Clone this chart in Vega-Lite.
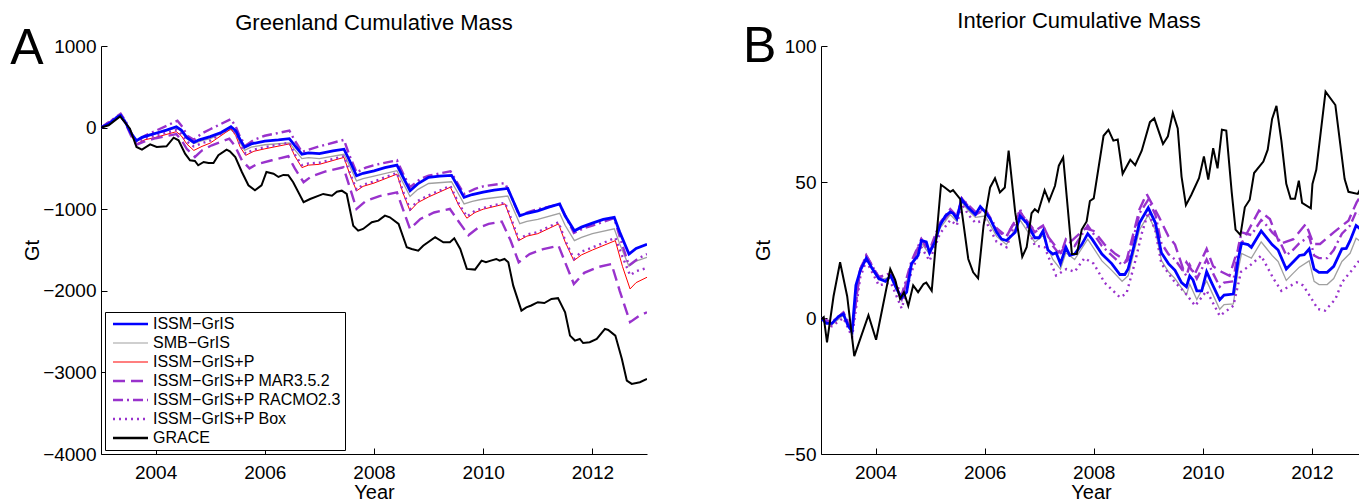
{
"$schema": "https://vega.github.io/schema/vega-lite/v6.json",
"padding": {"left": 10, "top": 10, "right": 0, "bottom": 0},
"spacing": 95,
"config": {
  "view": {"stroke": null},
  "font": "Liberation Sans",
  "axis": {"grid": false, "domainColor": "#000", "tickColor": "#000", "labelColor": "#000", "titleColor": "#000", "labelFontSize": 19, "titleFontSize": 20, "titleFontWeight": "normal", "labelFont": "Liberation Sans", "titleFont": "Liberation Sans", "tickSize": -6},
  "axisX": {"labelPadding": 15, "titlePadding": 0},
  "axisY": {"labelPadding": 11},
  "title": {"fontSize": 22, "fontWeight": "normal", "font": "Liberation Sans", "color": "#000"}
},
"resolve": {"scale": {"color": "independent"}, "legend": {"color": "independent"}},
"datasets": {
"aGRACE": [{"t":2003.0,"v":0},{"t":2003.14,"v":28},{"t":2003.35,"v":138},{"t":2003.53,"v":-13},{"t":2003.65,"v":-238},{"t":2003.75,"v":-270},{"t":2003.9,"v":-205},{"t":2004.02,"v":-238},{"t":2004.2,"v":-229},{"t":2004.33,"v":-124},{"t":2004.42,"v":-156},{"t":2004.54,"v":-320},{"t":2004.63,"v":-401},{"t":2004.72,"v":-409},{"t":2004.78,"v":-462},{"t":2004.88,"v":-421},{"t":2004.97,"v":-434},{"t":2005.06,"v":-434},{"t":2005.15,"v":-339},{"t":2005.3,"v":-270},{"t":2005.36,"v":-290},{"t":2005.46,"v":-360},{"t":2005.58,"v":-544},{"t":2005.7,"v":-707},{"t":2005.82,"v":-768},{"t":2005.94,"v":-707},{"t":2006.03,"v":-544},{"t":2006.16,"v":-565},{"t":2006.25,"v":-605},{"t":2006.34,"v":-580},{"t":2006.43,"v":-584},{"t":2006.52,"v":-670},{"t":2006.71,"v":-915},{"t":2006.83,"v":-875},{"t":2007.07,"v":-813},{"t":2007.23,"v":-834},{"t":2007.32,"v":-785},{"t":2007.41,"v":-773},{"t":2007.5,"v":-813},{"t":2007.62,"v":-1202},{"t":2007.71,"v":-1263},{"t":2007.8,"v":-1242},{"t":2007.96,"v":-1160},{"t":2008.08,"v":-1140},{"t":2008.2,"v":-1079},{"t":2008.29,"v":-1099},{"t":2008.45,"v":-1181},{"t":2008.6,"v":-1466},{"t":2008.69,"v":-1487},{"t":2008.81,"v":-1508},{"t":2008.9,"v":-1447},{"t":2009.12,"v":-1344},{"t":2009.27,"v":-1405},{"t":2009.39,"v":-1405},{"t":2009.47,"v":-1356},{"t":2009.58,"v":-1487},{"t":2009.7,"v":-1732},{"t":2009.85,"v":-1740},{"t":2009.97,"v":-1630},{"t":2010.05,"v":-1650},{"t":2010.14,"v":-1630},{"t":2010.24,"v":-1610},{"t":2010.3,"v":-1630},{"t":2010.39,"v":-1610},{"t":2010.46,"v":-1650},{"t":2010.55,"v":-1937},{"t":2010.7,"v":-2243},{"t":2010.79,"v":-2203},{"t":2010.88,"v":-2180},{"t":2011.0,"v":-2140},{"t":2011.12,"v":-2150},{"t":2011.25,"v":-2100},{"t":2011.37,"v":-2090},{"t":2011.5,"v":-2263},{"t":2011.59,"v":-2549},{"t":2011.68,"v":-2610},{"t":2011.77,"v":-2590},{"t":2011.83,"v":-2640},{"t":2011.95,"v":-2630},{"t":2012.08,"v":-2590},{"t":2012.23,"v":-2467},{"t":2012.29,"v":-2480},{"t":2012.42,"v":-2549},{"t":2012.54,"v":-2835},{"t":2012.63,"v":-3100},{"t":2012.72,"v":-3141},{"t":2012.87,"v":-3120},{"t":2013.0,"v":-3080}],
"aBlue": [{"t":2003.0,"v":0},{"t":2003.15,"v":50},{"t":2003.3,"v":130},{"t":2003.36,"v":150},{"t":2003.45,"v":60},{"t":2003.55,"v":-70},{"t":2003.65,"v":-160},{"t":2003.75,"v":-120},{"t":2003.9,"v":-90},{"t":2004.05,"v":-60},{"t":2004.2,"v":-30},{"t":2004.38,"v":10},{"t":2004.47,"v":-30},{"t":2004.57,"v":-120},{"t":2004.7,"v":-180},{"t":2004.8,"v":-150},{"t":2005.0,"v":-110},{"t":2005.2,"v":-60},{"t":2005.38,"v":10},{"t":2005.47,"v":-40},{"t":2005.55,"v":-150},{"t":2005.63,"v":-240},{"t":2005.75,"v":-200},{"t":2006.0,"v":-165},{"t":2006.25,"v":-150},{"t":2006.45,"v":-135},{"t":2006.55,"v":-220},{"t":2006.68,"v":-325},{"t":2006.8,"v":-310},{"t":2007.0,"v":-320},{"t":2007.25,"v":-285},{"t":2007.45,"v":-265},{"t":2007.55,"v":-400},{"t":2007.68,"v":-590},{"t":2007.8,"v":-560},{"t":2008.0,"v":-530},{"t":2008.2,"v":-490},{"t":2008.42,"v":-460},{"t":2008.52,"v":-590},{"t":2008.66,"v":-775},{"t":2008.8,"v":-690},{"t":2009.0,"v":-610},{"t":2009.2,"v":-595},{"t":2009.42,"v":-585},{"t":2009.52,"v":-700},{"t":2009.65,"v":-855},{"t":2009.8,"v":-820},{"t":2010.0,"v":-790},{"t":2010.2,"v":-765},{"t":2010.45,"v":-745},{"t":2010.55,"v":-900},{"t":2010.67,"v":-1080},{"t":2010.8,"v":-1050},{"t":2011.0,"v":-1020},{"t":2011.2,"v":-975},{"t":2011.4,"v":-935},{"t":2011.5,"v":-1080},{"t":2011.67,"v":-1265},{"t":2011.8,"v":-1220},{"t":2012.0,"v":-1170},{"t":2012.2,"v":-1125},{"t":2012.4,"v":-1100},{"t":2012.5,"v":-1280},{"t":2012.67,"v":-1550},{"t":2012.8,"v":-1480},{"t":2013.0,"v":-1430}],
"aGray": [{"t":2003.0,"v":0},{"t":2003.36,"v":148},{"t":2003.45,"v":58},{"t":2003.55,"v":-73},{"t":2003.65,"v":-165},{"t":2003.8,"v":-115},{"t":2004.0,"v":-75},{"t":2004.38,"v":-3},{"t":2004.47,"v":-43},{"t":2004.57,"v":-135},{"t":2004.7,"v":-196},{"t":2004.85,"v":-160},{"t":2005.0,"v":-135},{"t":2005.38,"v":-23},{"t":2005.47,"v":-75},{"t":2005.55,"v":-187},{"t":2005.63,"v":-278},{"t":2005.75,"v":-240},{"t":2006.0,"v":-210},{"t":2006.45,"v":-187},{"t":2006.55,"v":-273},{"t":2006.68,"v":-380},{"t":2006.8,"v":-368},{"t":2007.0,"v":-380},{"t":2007.45,"v":-327},{"t":2007.55,"v":-463},{"t":2007.68,"v":-654},{"t":2007.8,"v":-625},{"t":2008.0,"v":-595},{"t":2008.42,"v":-528},{"t":2008.52,"v":-660},{"t":2008.66,"v":-845},{"t":2008.8,"v":-760},{"t":2009.0,"v":-685},{"t":2009.42,"v":-664},{"t":2009.52,"v":-780},{"t":2009.65,"v":-935},{"t":2009.8,"v":-905},{"t":2010.0,"v":-875},{"t":2010.45,"v":-838},{"t":2010.55,"v":-995},{"t":2010.67,"v":-1177},{"t":2010.8,"v":-1150},{"t":2011.0,"v":-1125},{"t":2011.4,"v":-1050},{"t":2011.5,"v":-1197},{"t":2011.67,"v":-1385},{"t":2011.8,"v":-1345},{"t":2012.0,"v":-1300},{"t":2012.4,"v":-1240},{"t":2012.5,"v":-1425},{"t":2012.67,"v":-1700},{"t":2012.8,"v":-1635},{"t":2013.0,"v":-1590}],
"aRed": [{"t":2003.0,"v":0},{"t":2003.36,"v":150},{"t":2003.45,"v":60},{"t":2003.55,"v":-90},{"t":2003.65,"v":-200},{"t":2003.8,"v":-150},{"t":2004.0,"v":-120},{"t":2004.38,"v":-50},{"t":2004.47,"v":-100},{"t":2004.57,"v":-200},{"t":2004.7,"v":-280},{"t":2004.85,"v":-230},{"t":2005.0,"v":-190},{"t":2005.38,"v":-15},{"t":2005.47,"v":-100},{"t":2005.55,"v":-240},{"t":2005.65,"v":-340},{"t":2005.8,"v":-290},{"t":2006.0,"v":-260},{"t":2006.45,"v":-200},{"t":2006.55,"v":-350},{"t":2006.68,"v":-490},{"t":2006.8,"v":-460},{"t":2007.0,"v":-450},{"t":2007.45,"v":-365},{"t":2007.55,"v":-560},{"t":2007.68,"v":-775},{"t":2007.8,"v":-720},{"t":2008.0,"v":-680},{"t":2008.42,"v":-570},{"t":2008.53,"v":-800},{"t":2008.66,"v":-1020},{"t":2008.8,"v":-920},{"t":2009.0,"v":-850},{"t":2009.4,"v":-730},{"t":2009.55,"v":-950},{"t":2009.7,"v":-1110},{"t":2009.85,"v":-1040},{"t":2010.0,"v":-1000},{"t":2010.4,"v":-935},{"t":2010.52,"v":-1150},{"t":2010.65,"v":-1385},{"t":2010.8,"v":-1330},{"t":2011.0,"v":-1300},{"t":2011.38,"v":-1180},{"t":2011.5,"v":-1400},{"t":2011.66,"v":-1630},{"t":2011.8,"v":-1560},{"t":2012.0,"v":-1500},{"t":2012.42,"v":-1385},{"t":2012.55,"v":-1700},{"t":2012.69,"v":-1977},{"t":2012.8,"v":-1900},{"t":2013.0,"v":-1834}],
"aMAR": [{"t":2003.0,"v":0},{"t":2003.36,"v":150},{"t":2003.45,"v":50},{"t":2003.55,"v":-100},{"t":2003.65,"v":-210},{"t":2003.8,"v":-170},{"t":2004.0,"v":-130},{"t":2004.38,"v":-80},{"t":2004.47,"v":-150},{"t":2004.57,"v":-260},{"t":2004.72,"v":-360},{"t":2004.85,"v":-280},{"t":2005.03,"v":-217},{"t":2005.35,"v":-136},{"t":2005.45,"v":-220},{"t":2005.58,"v":-400},{"t":2005.72,"v":-500},{"t":2005.85,"v":-450},{"t":2006.13,"v":-400},{"t":2006.43,"v":-351},{"t":2006.55,"v":-500},{"t":2006.71,"v":-670},{"t":2006.85,"v":-600},{"t":2007.1,"v":-540},{"t":2007.44,"v":-486},{"t":2007.55,"v":-720},{"t":2007.68,"v":-997},{"t":2007.85,"v":-900},{"t":2008.1,"v":-840},{"t":2008.42,"v":-793},{"t":2008.53,"v":-1000},{"t":2008.66,"v":-1242},{"t":2008.85,"v":-1120},{"t":2009.1,"v":-1040},{"t":2009.39,"v":-997},{"t":2009.55,"v":-1150},{"t":2009.73,"v":-1320},{"t":2009.9,"v":-1230},{"t":2010.1,"v":-1180},{"t":2010.34,"v":-1152},{"t":2010.5,"v":-1380},{"t":2010.65,"v":-1650},{"t":2010.85,"v":-1550},{"t":2011.1,"v":-1490},{"t":2011.38,"v":-1447},{"t":2011.5,"v":-1650},{"t":2011.66,"v":-1916},{"t":2011.85,"v":-1780},{"t":2012.1,"v":-1710},{"t":2012.35,"v":-1671},{"t":2012.5,"v":-2000},{"t":2012.69,"v":-2385},{"t":2012.85,"v":-2310},{"t":2013.0,"v":-2263}],
"aRAC": [{"t":2003.0,"v":0},{"t":2003.36,"v":170},{"t":2003.45,"v":80},{"t":2003.55,"v":-60},{"t":2003.65,"v":-170},{"t":2003.8,"v":-100},{"t":2004.0,"v":-40},{"t":2004.4,"v":85},{"t":2004.5,"v":0},{"t":2004.58,"v":-100},{"t":2004.7,"v":-150},{"t":2004.85,"v":-70},{"t":2005.0,"v":-20},{"t":2005.38,"v":105},{"t":2005.47,"v":10},{"t":2005.55,"v":-120},{"t":2005.65,"v":-220},{"t":2005.8,"v":-150},{"t":2006.0,"v":-100},{"t":2006.45,"v":-37},{"t":2006.55,"v":-160},{"t":2006.68,"v":-300},{"t":2006.85,"v":-260},{"t":2007.0,"v":-230},{"t":2007.45,"v":-150},{"t":2007.55,"v":-340},{"t":2007.68,"v":-550},{"t":2007.85,"v":-490},{"t":2008.0,"v":-460},{"t":2008.42,"v":-400},{"t":2008.53,"v":-560},{"t":2008.66,"v":-730},{"t":2008.85,"v":-630},{"t":2009.0,"v":-590},{"t":2009.4,"v":-535},{"t":2009.52,"v":-670},{"t":2009.65,"v":-813},{"t":2009.85,"v":-750},{"t":2010.0,"v":-720},{"t":2010.4,"v":-680},{"t":2010.53,"v":-870},{"t":2010.66,"v":-1080},{"t":2010.85,"v":-1030},{"t":2011.0,"v":-1000},{"t":2011.4,"v":-940},{"t":2011.52,"v":-1100},{"t":2011.66,"v":-1290},{"t":2011.85,"v":-1230},{"t":2012.0,"v":-1200},{"t":2012.4,"v":-1110},{"t":2012.52,"v":-1380},{"t":2012.67,"v":-1690},{"t":2012.85,"v":-1600},{"t":2013.0,"v":-1550}],
"aBox": [{"t":2003.0,"v":0},{"t":2003.36,"v":160},{"t":2003.45,"v":70},{"t":2003.55,"v":-80},{"t":2003.65,"v":-180},{"t":2003.8,"v":-130},{"t":2004.0,"v":-100},{"t":2004.38,"v":-30},{"t":2004.47,"v":-80},{"t":2004.57,"v":-170},{"t":2004.7,"v":-230},{"t":2004.85,"v":-190},{"t":2005.0,"v":-160},{"t":2005.38,"v":0},{"t":2005.47,"v":-80},{"t":2005.55,"v":-220},{"t":2005.65,"v":-320},{"t":2005.8,"v":-270},{"t":2006.0,"v":-240},{"t":2006.45,"v":-185},{"t":2006.55,"v":-330},{"t":2006.68,"v":-460},{"t":2006.8,"v":-440},{"t":2007.0,"v":-430},{"t":2007.45,"v":-350},{"t":2007.55,"v":-540},{"t":2007.68,"v":-760},{"t":2007.8,"v":-700},{"t":2008.0,"v":-660},{"t":2008.42,"v":-555},{"t":2008.53,"v":-780},{"t":2008.66,"v":-1000},{"t":2008.8,"v":-900},{"t":2009.0,"v":-830},{"t":2009.4,"v":-715},{"t":2009.55,"v":-930},{"t":2009.7,"v":-1090},{"t":2009.85,"v":-1020},{"t":2010.0,"v":-985},{"t":2010.4,"v":-920},{"t":2010.52,"v":-1130},{"t":2010.65,"v":-1370},{"t":2010.8,"v":-1310},{"t":2011.0,"v":-1280},{"t":2011.38,"v":-1160},{"t":2011.5,"v":-1380},{"t":2011.66,"v":-1610},{"t":2011.8,"v":-1520},{"t":2012.0,"v":-1470},{"t":2012.42,"v":-1350},{"t":2012.55,"v":-1580},{"t":2012.69,"v":-1810},{"t":2012.8,"v":-1760},{"t":2013.0,"v":-1720}],
"bGRACE": [{"t":2003.0,"v":-0.5},{"t":2003.05,"v":0.3},{"t":2003.11,"v":-9},{"t":2003.23,"v":8},{"t":2003.35,"v":20.5},{"t":2003.48,"v":8},{"t":2003.61,"v":-14},{"t":2003.87,"v":1},{"t":2004.01,"v":-8},{"t":2004.27,"v":18},{"t":2004.36,"v":14},{"t":2004.45,"v":7},{"t":2004.52,"v":9.5},{"t":2004.6,"v":4.5},{"t":2004.69,"v":12},{"t":2004.78,"v":9.5},{"t":2004.88,"v":12.5},{"t":2004.93,"v":13},{"t":2005.03,"v":10},{"t":2005.2,"v":49},{"t":2005.27,"v":48},{"t":2005.37,"v":46.4},{"t":2005.42,"v":47},{"t":2005.55,"v":43.8},{"t":2005.7,"v":21.7},{"t":2005.79,"v":16.8},{"t":2005.88,"v":14.6},{"t":2005.98,"v":34},{"t":2006.1,"v":48},{"t":2006.19,"v":51.4},{"t":2006.28,"v":46.2},{"t":2006.37,"v":48},{"t":2006.44,"v":61.5},{"t":2006.56,"v":38.9},{"t":2006.69,"v":22.5},{"t":2006.77,"v":26},{"t":2006.86,"v":38.5},{"t":2006.92,"v":40},{"t":2006.98,"v":39},{"t":2007.1,"v":47},{"t":2007.18,"v":43},{"t":2007.29,"v":48.6},{"t":2007.36,"v":56},{"t":2007.44,"v":59},{"t":2007.6,"v":23.5},{"t":2007.69,"v":23.5},{"t":2007.78,"v":32.5},{"t":2007.87,"v":35.5},{"t":2007.93,"v":43},{"t":2008.0,"v":44},{"t":2008.18,"v":67},{"t":2008.27,"v":69.2},{"t":2008.36,"v":65.2},{"t":2008.44,"v":65.6},{"t":2008.53,"v":53},{"t":2008.67,"v":58.2},{"t":2008.76,"v":56.2},{"t":2008.88,"v":61.5},{"t":2009.03,"v":72},{"t":2009.11,"v":73.4},{"t":2009.27,"v":64},{"t":2009.36,"v":66.8},{"t":2009.45,"v":75.4},{"t":2009.54,"v":69.7},{"t":2009.61,"v":52},{"t":2009.69,"v":41.5},{"t":2009.79,"v":45.3},{"t":2009.93,"v":51.4},{"t":2010.02,"v":59.4},{"t":2010.1,"v":50.9},{"t":2010.19,"v":62.4},{"t":2010.27,"v":55},{"t":2010.35,"v":69.2},{"t":2010.43,"v":68.9},{"t":2010.53,"v":46.2},{"t":2010.6,"v":32.5},{"t":2010.69,"v":30.5},{"t":2010.77,"v":40.7},{"t":2010.86,"v":43.5},{"t":2010.94,"v":53.3},{"t":2011.11,"v":57.5},{"t":2011.19,"v":61.9},{"t":2011.27,"v":73.2},{"t":2011.35,"v":78},{"t":2011.44,"v":65.2},{"t":2011.53,"v":49.3},{"t":2011.61,"v":43.8},{"t":2011.69,"v":43.8},{"t":2011.76,"v":50.5},{"t":2011.82,"v":42.3},{"t":2011.98,"v":40.3},{"t":2012.01,"v":49.3},{"t":2012.08,"v":54.5},{"t":2012.25,"v":83.2},{"t":2012.43,"v":78.3},{"t":2012.6,"v":51.1},{"t":2012.67,"v":46.4},{"t":2012.84,"v":45.6},{"t":2012.9,"v":48},{"t":2013.0,"v":52}],
"bBlue": [{"t":2003.0,"v":0},{"t":2003.1,"v":-2},{"t":2003.2,"v":-2},{"t":2003.32,"v":0.5},{"t":2003.41,"v":1.5},{"t":2003.5,"v":-3},{"t":2003.57,"v":-5},{"t":2003.64,"v":12},{"t":2003.72,"v":17.5},{"t":2003.83,"v":22},{"t":2003.93,"v":18.5},{"t":2004.06,"v":14.5},{"t":2004.18,"v":13.5},{"t":2004.28,"v":15.5},{"t":2004.39,"v":10.5},{"t":2004.48,"v":7.5},{"t":2004.57,"v":9.5},{"t":2004.66,"v":20},{"t":2004.78,"v":23},{"t":2004.84,"v":28.5},{"t":2004.93,"v":28},{"t":2004.99,"v":24},{"t":2005.09,"v":28},{"t":2005.18,"v":34},{"t":2005.28,"v":37.5},{"t":2005.37,"v":39},{"t":2005.42,"v":38.5},{"t":2005.49,"v":36.5},{"t":2005.58,"v":43.5},{"t":2005.7,"v":40.5},{"t":2005.83,"v":38},{"t":2005.92,"v":41},{"t":2006.01,"v":39},{"t":2006.1,"v":36.5},{"t":2006.22,"v":31.5},{"t":2006.31,"v":29},{"t":2006.4,"v":28.5},{"t":2006.56,"v":31.5},{"t":2006.65,"v":37.5},{"t":2006.77,"v":35},{"t":2006.92,"v":29.5},{"t":2007.0,"v":29.5},{"t":2007.07,"v":32},{"t":2007.16,"v":25},{"t":2007.25,"v":23.5},{"t":2007.31,"v":24},{"t":2007.39,"v":20},{"t":2007.49,"v":26},{"t":2007.56,"v":23},{"t":2007.65,"v":23.5},{"t":2007.78,"v":27},{"t":2007.89,"v":31},{"t":2007.97,"v":29},{"t":2008.15,"v":23.5},{"t":2008.33,"v":20},{"t":2008.48,"v":16},{"t":2008.57,"v":16},{"t":2008.63,"v":18},{"t":2008.72,"v":25},{"t":2008.84,"v":35},{"t":2009.0,"v":40.5},{"t":2009.13,"v":35},{"t":2009.24,"v":24},{"t":2009.37,"v":20},{"t":2009.49,"v":17.5},{"t":2009.61,"v":13},{"t":2009.7,"v":11.5},{"t":2009.76,"v":15.5},{"t":2009.82,"v":14},{"t":2009.89,"v":10},{"t":2009.98,"v":10},{"t":2010.07,"v":17},{"t":2010.16,"v":13},{"t":2010.31,"v":6.7},{"t":2010.39,"v":8.4},{"t":2010.56,"v":8.8},{"t":2010.65,"v":21.7},{"t":2010.71,"v":27.5},{"t":2010.83,"v":27},{"t":2010.89,"v":26},{"t":2011.07,"v":32},{"t":2011.15,"v":30},{"t":2011.27,"v":27},{"t":2011.38,"v":25},{"t":2011.53,"v":18},{"t":2011.65,"v":20.5},{"t":2011.77,"v":23},{"t":2011.86,"v":23.3},{"t":2011.95,"v":25.4},{"t":2012.04,"v":18},{"t":2012.13,"v":16.8},{"t":2012.28,"v":16.8},{"t":2012.4,"v":19},{"t":2012.55,"v":25.4},{"t":2012.63,"v":25.6},{"t":2012.7,"v":28.4},{"t":2012.81,"v":34},{"t":2012.9,"v":32.5},{"t":2013.0,"v":32}],
"bGray": [{"t":2003.0,"v":0},{"t":2003.2,"v":-2.5},{"t":2003.41,"v":1},{"t":2003.57,"v":-5.5},{"t":2003.72,"v":17},{"t":2003.83,"v":21.5},{"t":2004.06,"v":14},{"t":2004.28,"v":15},{"t":2004.48,"v":7},{"t":2004.66,"v":19.5},{"t":2004.84,"v":27.5},{"t":2004.99,"v":23.5},{"t":2005.18,"v":33},{"t":2005.37,"v":38},{"t":2005.49,"v":35.5},{"t":2005.58,"v":42.5},{"t":2005.7,"v":39.5},{"t":2005.83,"v":37},{"t":2006.01,"v":37.5},{"t":2006.22,"v":30},{"t":2006.4,"v":27},{"t":2006.65,"v":36},{"t":2006.92,"v":27.8},{"t":2007.07,"v":30.3},{"t":2007.25,"v":21.5},{"t":2007.39,"v":18},{"t":2007.49,"v":24},{"t":2007.65,"v":21.5},{"t":2007.89,"v":29},{"t":2008.15,"v":21},{"t":2008.33,"v":17.5},{"t":2008.52,"v":13.5},{"t":2008.63,"v":15.5},{"t":2008.84,"v":32.5},{"t":2009.0,"v":37.8},{"t":2009.13,"v":32.3},{"t":2009.24,"v":21.2},{"t":2009.37,"v":17},{"t":2009.49,"v":14.5},{"t":2009.7,"v":8.5},{"t":2009.76,"v":12.5},{"t":2009.89,"v":6.8},{"t":2010.07,"v":13.6},{"t":2010.16,"v":9.7},{"t":2010.31,"v":3.2},{"t":2010.39,"v":4.9},{"t":2010.56,"v":5.2},{"t":2010.65,"v":18},{"t":2010.71,"v":23.7},{"t":2010.89,"v":22},{"t":2011.07,"v":28},{"t":2011.15,"v":26},{"t":2011.27,"v":23},{"t":2011.38,"v":20.8},{"t":2011.53,"v":13.8},{"t":2011.65,"v":16.3},{"t":2011.77,"v":18.7},{"t":2011.95,"v":21},{"t":2012.04,"v":13.5},{"t":2012.13,"v":12.3},{"t":2012.28,"v":12.3},{"t":2012.4,"v":14.5},{"t":2012.55,"v":20.8},{"t":2012.7,"v":23.8},{"t":2012.81,"v":29.3},{"t":2012.9,"v":28},{"t":2013.0,"v":27}],
"bMAR": [{"t":2003.0,"v":0},{"t":2003.2,"v":-2},{"t":2003.41,"v":2},{"t":2003.57,"v":-5},{"t":2003.72,"v":18},{"t":2003.83,"v":23},{"t":2004.06,"v":15},{"t":2004.28,"v":16},{"t":2004.48,"v":7},{"t":2004.66,"v":20},{"t":2004.84,"v":29},{"t":2004.99,"v":24},{"t":2005.18,"v":34},{"t":2005.37,"v":39},{"t":2005.49,"v":37},{"t":2005.58,"v":44},{"t":2005.83,"v":38},{"t":2006.01,"v":40},{"t":2006.22,"v":32},{"t":2006.4,"v":30},{"t":2006.65,"v":39},{"t":2006.92,"v":32},{"t":2007.07,"v":34},{"t":2007.16,"v":30},{"t":2007.39,"v":24},{"t":2007.5,"v":27},{"t":2007.63,"v":29},{"t":2007.85,"v":33},{"t":2008.0,"v":32},{"t":2008.2,"v":27},{"t":2008.4,"v":23.5},{"t":2008.6,"v":21},{"t":2008.84,"v":40},{"t":2008.97,"v":45.6},{"t":2009.2,"v":37},{"t":2009.37,"v":30},{"t":2009.49,"v":27},{"t":2009.64,"v":18},{"t":2009.7,"v":20.5},{"t":2009.85,"v":16},{"t":2010.07,"v":25.4},{"t":2010.19,"v":19},{"t":2010.34,"v":17},{"t":2010.49,"v":15.5},{"t":2010.62,"v":24},{"t":2010.83,"v":32},{"t":2011.03,"v":39.5},{"t":2011.23,"v":36.4},{"t":2011.41,"v":27.2},{"t":2011.66,"v":29},{"t":2011.89,"v":34.6},{"t":2012.03,"v":27.2},{"t":2012.15,"v":27.2},{"t":2012.4,"v":31.5},{"t":2012.67,"v":35.8},{"t":2012.82,"v":42.5},{"t":2012.9,"v":45},{"t":2013.0,"v":47}],
"bRAC": [{"t":2003.0,"v":0},{"t":2003.2,"v":-1.5},{"t":2003.41,"v":2},{"t":2003.57,"v":-4},{"t":2003.72,"v":18},{"t":2003.83,"v":23},{"t":2004.06,"v":15},{"t":2004.28,"v":16.5},{"t":2004.48,"v":8.5},{"t":2004.66,"v":21},{"t":2004.84,"v":29},{"t":2004.99,"v":25},{"t":2005.18,"v":35},{"t":2005.37,"v":40},{"t":2005.49,"v":37.5},{"t":2005.58,"v":44},{"t":2005.7,"v":41.5},{"t":2005.83,"v":39},{"t":2006.01,"v":40},{"t":2006.22,"v":33},{"t":2006.4,"v":30},{"t":2006.65,"v":39},{"t":2006.92,"v":31.5},{"t":2007.07,"v":34},{"t":2007.25,"v":26.5},{"t":2007.39,"v":23},{"t":2007.49,"v":29},{"t":2007.65,"v":26.5},{"t":2007.89,"v":34},{"t":2008.15,"v":26.5},{"t":2008.33,"v":23},{"t":2008.52,"v":19.5},{"t":2008.63,"v":21.5},{"t":2008.84,"v":38.5},{"t":2009.0,"v":43.5},{"t":2009.13,"v":38},{"t":2009.24,"v":27.5},{"t":2009.37,"v":23.5},{"t":2009.49,"v":21.5},{"t":2009.7,"v":15.5},{"t":2009.76,"v":19.5},{"t":2009.89,"v":14.5},{"t":2010.07,"v":21.5},{"t":2010.16,"v":17.5},{"t":2010.31,"v":11.5},{"t":2010.39,"v":13},{"t":2010.56,"v":13.5},{"t":2010.65,"v":26},{"t":2010.71,"v":31.5},{"t":2010.89,"v":30.5},{"t":2011.07,"v":36},{"t":2011.15,"v":34.5},{"t":2011.27,"v":31.5},{"t":2011.38,"v":29.5},{"t":2011.53,"v":23},{"t":2011.65,"v":25},{"t":2011.77,"v":27.5},{"t":2011.95,"v":30},{"t":2012.04,"v":23},{"t":2012.13,"v":22},{"t":2012.28,"v":22},{"t":2012.4,"v":25},{"t":2012.55,"v":31},{"t":2012.7,"v":34},{"t":2012.81,"v":39},{"t":2012.9,"v":38},{"t":2013.0,"v":38}],
"bBox": [{"t":2003.0,"v":0},{"t":2003.2,"v":-3},{"t":2003.41,"v":0},{"t":2003.57,"v":-7},{"t":2003.72,"v":15},{"t":2003.83,"v":21},{"t":2004.06,"v":12},{"t":2004.28,"v":13},{"t":2004.48,"v":3.5},{"t":2004.66,"v":17},{"t":2004.84,"v":26},{"t":2004.99,"v":21},{"t":2005.18,"v":31},{"t":2005.37,"v":36},{"t":2005.49,"v":34},{"t":2005.58,"v":42},{"t":2005.7,"v":38},{"t":2005.83,"v":35},{"t":2006.01,"v":36},{"t":2006.22,"v":28},{"t":2006.4,"v":26},{"t":2006.65,"v":40},{"t":2006.92,"v":26.6},{"t":2007.1,"v":26},{"t":2007.31,"v":15.6},{"t":2007.5,"v":18},{"t":2007.65,"v":17},{"t":2007.83,"v":22},{"t":2008.0,"v":20},{"t":2008.2,"v":13},{"t":2008.48,"v":7.6},{"t":2008.6,"v":9},{"t":2008.75,"v":20},{"t":2008.88,"v":31},{"t":2009.0,"v":38.9},{"t":2009.13,"v":32},{"t":2009.24,"v":20},{"t":2009.49,"v":13.1},{"t":2009.67,"v":9.4},{"t":2009.86,"v":4.5},{"t":2010.07,"v":10},{"t":2010.31,"v":0.8},{"t":2010.56,"v":4.5},{"t":2010.7,"v":17},{"t":2010.86,"v":19.2},{"t":2011.07,"v":22.9},{"t":2011.3,"v":14.3},{"t":2011.44,"v":10},{"t":2011.72,"v":13.1},{"t":2011.84,"v":12},{"t":2012.11,"v":3.3},{"t":2012.24,"v":2.7},{"t":2012.43,"v":6.9},{"t":2012.55,"v":13.1},{"t":2012.75,"v":18},{"t":2012.9,"v":22},{"t":2013.0,"v":24}]
},
"hconcat": [
{
  "width": 546, "height": 408,
  "title": {"text": "Greenland Cumulative Mass", "offset": -11},
  "layer": [
    {"data": {"name": "aGray"}, "mark": {"type": "line", "clip": true, "strokeWidth": 1.3}, "encoding": {
      "x": {"field": "t", "type": "quantitative", "scale": {"domain": [2003, 2013], "nice": false, "zero": false}, "axis": {"values": [2004, 2006, 2008, 2010, 2012], "format": "d", "title": "Year"}},
      "y": {"field": "v", "type": "quantitative", "scale": {"domain": [-4000, 1000], "nice": false}, "axis": {"values": [-4000, -3000, -2000, -1000, 0, 1000], "format": "d", "title": "Gt", "titlePadding": 0}},
      "color": {"datum": "SMB−GrIS", "type": "nominal",
      "scale": {"domain": ["ISSM−GrIS", "SMB−GrIS", "ISSM−GrIS+P", "ISSM−GrIS+P MAR3.5.2", "ISSM−GrIS+P RACMO2.3", "ISSM−GrIS+P Box", "GRACE"], "range": ["#0000ff", "#a0a0a0", "#ff0000", "#9932cc", "#9932cc", "#9932cc", "#000000"]},
      "legend": {"title": null, "orient": "bottom-left", "offset": 4, "symbolType": "stroke", "symbolSize": 1225, "symbolOffset": 4, "labelFontSize": 16, "labelFont": "Liberation Sans", "labelColor": "#000", "labelLimit": 0, "strokeColor": "#000", "fillColor": "#fff", "padding": 4, "rowPadding": 3, "labelOffset": 5,
        "encode": {
          "symbols": {"update": {
            "x": {"value": 21.5},
            "size": {"value": 1225},
            "strokeDash": {"signal": "datum.value == 'ISSM−GrIS+P MAR3.5.2' ? [12,6] : datum.value == 'ISSM−GrIS+P RACMO2.3' ? [10,4,2,4] : datum.value == 'ISSM−GrIS+P Box' ? [2,4] : [1,0]"},
            "strokeWidth": {"signal": "datum.value == 'SMB−GrIS' || datum.value == 'ISSM−GrIS+P' ? 1.2 : 2.4"}}},
          "labels": {"update": {"x": {"value": 44}}}}}}}},
    {"data": {"name": "aRed"}, "mark": {"type": "line", "clip": true, "strokeWidth": 1}, "encoding": {"x": {"field": "t", "type": "quantitative"}, "y": {"field": "v", "type": "quantitative"}, "color": {"datum": "ISSM−GrIS+P", "type": "nominal"}}},
    {"data": {"name": "aBox"}, "mark": {"type": "line", "clip": true, "strokeWidth": 2.4, "strokeDash": [2, 4]}, "encoding": {"x": {"field": "t", "type": "quantitative"}, "y": {"field": "v", "type": "quantitative"}, "color": {"datum": "ISSM−GrIS+P Box", "type": "nominal"}}},
    {"data": {"name": "aMAR"}, "mark": {"type": "line", "clip": true, "strokeWidth": 2.4, "strokeDash": [12, 6]}, "encoding": {"x": {"field": "t", "type": "quantitative"}, "y": {"field": "v", "type": "quantitative"}, "color": {"datum": "ISSM−GrIS+P MAR3.5.2", "type": "nominal"}}},
    {"data": {"name": "aRAC"}, "mark": {"type": "line", "clip": true, "strokeWidth": 2.4, "strokeDash": [10, 4, 2, 4]}, "encoding": {"x": {"field": "t", "type": "quantitative"}, "y": {"field": "v", "type": "quantitative"}, "color": {"datum": "ISSM−GrIS+P RACMO2.3", "type": "nominal"}}},
    {"data": {"name": "aBlue"}, "mark": {"type": "line", "clip": true, "strokeWidth": 2.8}, "encoding": {"x": {"field": "t", "type": "quantitative"}, "y": {"field": "v", "type": "quantitative"}, "color": {"datum": "ISSM−GrIS", "type": "nominal"}}},
    {"data": {"name": "aGRACE"}, "mark": {"type": "line", "clip": true, "strokeWidth": 2}, "encoding": {"x": {"field": "t", "type": "quantitative"}, "y": {"field": "v", "type": "quantitative"}, "color": {"datum": "GRACE", "type": "nominal"}}},
    {"data": {"values": [{"l": "A"}]}, "mark": {"type": "text", "fontSize": 50, "align": "left", "baseline": "alphabetic", "font": "Liberation Sans", "color": "#000"}, "encoding": {"x": {"datum": 2001.34, "type": "quantitative"}, "y": {"datum": 779, "type": "quantitative"}, "text": {"field": "l", "type": "nominal"}}}
  ]
},
{
  "width": 540, "height": 408,
  "title": {"text": "Interior Cumulative Mass", "offset": -11, "dx": -12},
  "layer": [
    {"data": {"name": "bGray"}, "mark": {"type": "line", "clip": true, "strokeWidth": 1.3}, "encoding": {
      "x": {"field": "t", "type": "quantitative", "scale": {"domain": [2003, 2012.9], "nice": false, "zero": false}, "axis": {"values": [2004, 2006, 2008, 2010, 2012], "format": "d", "title": "Year"}},
      "y": {"field": "v", "type": "quantitative", "scale": {"domain": [-50, 100], "nice": false}, "axis": {"values": [-50, 0, 50, 100], "format": "d", "title": "Gt", "titlePadding": 10}},
      "color": {"datum": "SMB−GrIS", "type": "nominal",
      "scale": {"domain": ["ISSM−GrIS", "SMB−GrIS", "ISSM−GrIS+P", "ISSM−GrIS+P MAR3.5.2", "ISSM−GrIS+P RACMO2.3", "ISSM−GrIS+P Box", "GRACE"], "range": ["#0000ff", "#a0a0a0", "#ff0000", "#9932cc", "#9932cc", "#9932cc", "#000000"]}, "legend": null}}},
    {"data": {"name": "bBox"}, "mark": {"type": "line", "clip": true, "strokeWidth": 2.4, "strokeDash": [2, 4]}, "encoding": {"x": {"field": "t", "type": "quantitative"}, "y": {"field": "v", "type": "quantitative"}, "color": {"datum": "ISSM−GrIS+P Box", "type": "nominal"}}},
    {"data": {"name": "bMAR"}, "mark": {"type": "line", "clip": true, "strokeWidth": 2.4, "strokeDash": [12, 6]}, "encoding": {"x": {"field": "t", "type": "quantitative"}, "y": {"field": "v", "type": "quantitative"}, "color": {"datum": "ISSM−GrIS+P MAR3.5.2", "type": "nominal"}}},
    {"data": {"name": "bRAC"}, "mark": {"type": "line", "clip": true, "strokeWidth": 2.4, "strokeDash": [10, 4, 2, 4]}, "encoding": {"x": {"field": "t", "type": "quantitative"}, "y": {"field": "v", "type": "quantitative"}, "color": {"datum": "ISSM−GrIS+P RACMO2.3", "type": "nominal"}}},
    {"data": {"name": "bBlue"}, "mark": {"type": "line", "clip": true, "strokeWidth": 2.8}, "encoding": {"x": {"field": "t", "type": "quantitative"}, "y": {"field": "v", "type": "quantitative"}, "color": {"datum": "ISSM−GrIS", "type": "nominal"}}},
    {"data": {"name": "bGRACE"}, "mark": {"type": "line", "clip": true, "strokeWidth": 2}, "encoding": {"x": {"field": "t", "type": "quantitative"}, "y": {"field": "v", "type": "quantitative"}, "color": {"datum": "GRACE", "type": "nominal"}}},
    {"data": {"values": [{"l": "B"}]}, "mark": {"type": "text", "fontSize": 50, "align": "left", "baseline": "alphabetic", "font": "Liberation Sans", "color": "#000"}, "encoding": {"x": {"datum": 2001.57, "type": "quantitative"}, "y": {"datum": 94, "type": "quantitative"}, "text": {"field": "l", "type": "nominal"}}}
  ]
}
]
}
